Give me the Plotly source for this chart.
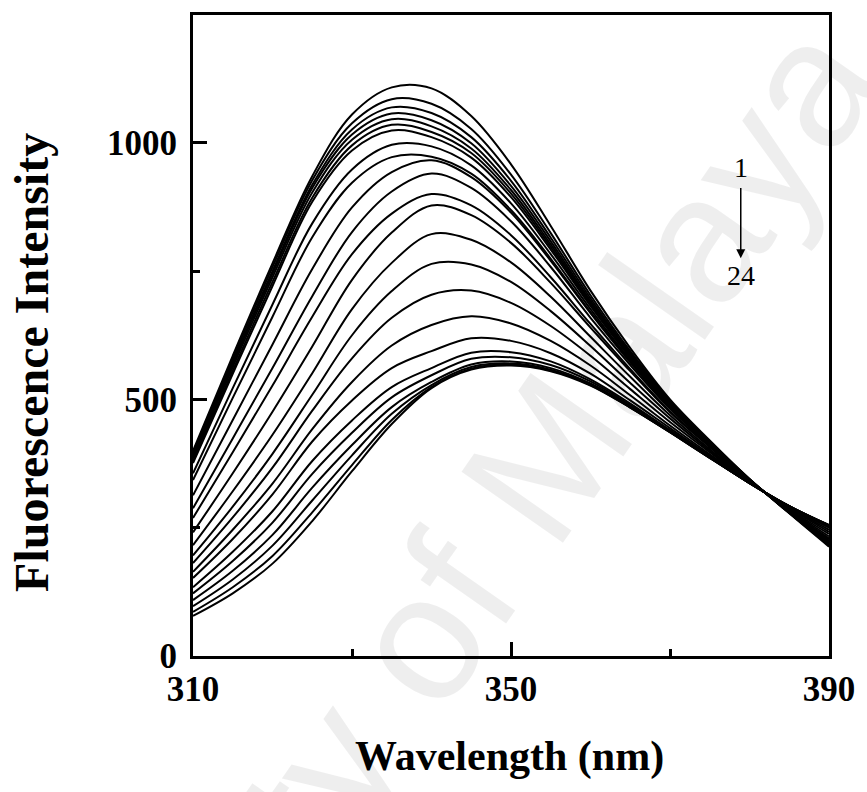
import plotly.graph_objects as go

wavelength = [310, 315, 320, 325, 330, 335, 340, 345, 350, 355, 360, 365, 370, 375, 380, 385, 390]

c01 = [400, 585, 765, 935, 1055, 1108, 1106, 1052, 958, 838, 712, 600, 500, 420, 345, 278, 213]
c02 = [396, 579, 758, 927, 1038, 1085, 1076, 1027, 938, 824, 703, 594, 497, 418, 345, 279, 215]
c03 = [392, 573, 750, 918, 1026, 1069, 1058, 1011, 926, 815, 697, 590, 495, 417, 344, 279, 216]
c04 = [389, 569, 745, 912, 1016, 1057, 1044, 999, 916, 808, 692, 588, 493, 416, 344, 279, 217]
c05 = [385, 563, 738, 903, 1006, 1046, 1032, 989, 908, 802, 689, 585, 492, 416, 344, 280, 218]
c06 = [380, 556, 729, 893, 995, 1035, 1021, 980, 901, 797, 685, 583, 491, 415, 344, 280, 219]
c07 = [376, 550, 721, 885, 985, 1024, 1011, 971, 894, 792, 682, 581, 490, 414, 344, 280, 220]
c08 = [356, 522, 685, 843, 948, 996, 993, 956, 882, 783, 676, 577, 488, 413, 343, 281, 221]
c09 = [343, 503, 661, 816, 922, 972, 973, 940, 869, 774, 670, 574, 485, 412, 343, 281, 223]
c10 = [313, 460, 607, 754, 874, 943, 966, 933, 864, 770, 668, 572, 485, 412, 343, 281, 223]
c11 = [288, 424, 561, 701, 826, 905, 940, 912, 847, 758, 659, 567, 482, 410, 343, 282, 225]
c12 = [269, 397, 527, 661, 783, 862, 900, 878, 820, 738, 647, 559, 477, 408, 342, 283, 228]
c13 = [241, 356, 476, 603, 733, 825, 878, 859, 805, 727, 640, 555, 475, 407, 342, 283, 229]
c14 = [216, 321, 431, 551, 676, 766, 822, 811, 767, 700, 622, 544, 469, 403, 341, 285, 233]
c15 = [196, 291, 394, 509, 625, 711, 764, 763, 729, 672, 604, 532, 463, 400, 340, 286, 238]
c16 = [181, 270, 367, 478, 580, 659, 704, 712, 688, 643, 585, 520, 456, 397, 339, 288, 242]
c17 = [164, 246, 336, 442, 534, 605, 645, 662, 648, 614, 566, 508, 449, 393, 339, 289, 246]
c18 = [152, 228, 315, 418, 498, 561, 594, 619, 614, 590, 550, 498, 444, 390, 338, 290, 250]
c19 = [134, 203, 282, 380, 459, 524, 561, 591, 592, 574, 539, 492, 440, 388, 337, 291, 252]
c20 = [122, 185, 260, 355, 435, 504, 547, 579, 582, 567, 535, 489, 439, 387, 337, 292, 253]
c21 = [109, 166, 236, 328, 411, 485, 534, 568, 574, 561, 531, 486, 437, 387, 337, 292, 254]
c22 = [97, 149, 215, 303, 391, 472, 528, 563, 570, 558, 529, 485, 436, 386, 337, 292, 255]
c23 = [86, 134, 195, 280, 372, 460, 524, 560, 568, 556, 528, 484, 436, 386, 337, 292, 255]
c24 = [78, 122, 180, 263, 360, 452, 522, 558, 566, 555, 527, 484, 436, 386, 337, 292, 255]

curves = [c01, c02, c03, c04, c05, c06, c07, c08, c09, c10, c11, c12,
          c13, c14, c15, c16, c17, c18, c19, c20, c21, c22, c23, c24]

x_ticks = [310, 350, 390]
y_ticks = [0, 500, 1000]

SERIF = "Liberation Serif"

fig = go.Figure()
for i, c in enumerate(curves):
    fig.add_trace(go.Scatter(
        x=wavelength, y=c, mode="lines", name=str(i + 1),
        line=dict(color="black", width=2, shape="spline", smoothing=1.0),
        showlegend=False, hoverinfo="skip"))

fig.update_layout(
    width=867, height=792,
    margin=dict(l=193, r=32, t=14, b=136),
    paper_bgcolor="white", plot_bgcolor="white",
    font=dict(family=SERIF, color="black"),
)

fig.update_xaxes(
    range=[310, 390], tickmode="array", tickvals=x_ticks,
    ticktext=[str(v) for v in x_ticks],
    ticks="inside", ticklen=14, tickwidth=2.5, tickcolor="black",
    minor=dict(ticks="inside", ticklen=7, tickwidth=2.5, tickcolor="black",
               tickmode="array", tickvals=[330, 370]),
    showline=True, linewidth=3, linecolor="black", mirror=True,
    showgrid=False, zeroline=False,
    tickfont=dict(family=SERIF, size=35, weight="bold", color="black"),
    ticklabelstandoff=0,
)
fig.update_yaxes(
    range=[0, 1249], tickmode="array", tickvals=y_ticks,
    ticktext=[str(v) for v in y_ticks],
    ticks="inside", ticklen=14, tickwidth=2.5, tickcolor="black",
    minor=dict(ticks="inside", ticklen=7, tickwidth=2.5, tickcolor="black",
               tickmode="array", tickvals=[250, 750]),
    showline=True, linewidth=3, linecolor="black", mirror=True,
    showgrid=False, zeroline=False,
    tickfont=dict(family=SERIF, size=35, weight="bold", color="black"),
    ticklabelstandoff=6,
)

# watermark
fig.add_annotation(
    text="University of Malaya", xref="paper", yref="paper",
    x=0.28, y=-0.08, xanchor="center", yanchor="middle",
    textangle=-55, showarrow=False,
    font=dict(family="Liberation Sans", size=180, color="rgba(0,0,0,0.065)"),
)

# axis titles
fig.add_annotation(
    text="Wavelength (nm)", xref="paper", yref="paper",
    x=0.498, y=-0.157, xanchor="center", yanchor="middle", showarrow=False,
    font=dict(family=SERIF, size=42, weight="bold", color="black"),
)
fig.add_annotation(
    text="Fluorescence Intensity", xref="paper", yref="paper",
    x=-0.254, y=0.458, xanchor="center", yanchor="middle", showarrow=False,
    textangle=-90,
    font=dict(family=SERIF, size=48, weight="bold", color="black"),
)

# arrow 1 -> 24
fig.add_annotation(x=378.9, y=775, ax=378.9, ay=915, xref="x", yref="y",
                   axref="x", ayref="y", text="", showarrow=True,
                   arrowhead=2, arrowsize=1.2, arrowwidth=1.5, arrowcolor="black")
fig.add_annotation(x=378.9, y=952, text="1", showarrow=False, xref="x", yref="y",
                   font=dict(family=SERIF, size=28, color="black"))
fig.add_annotation(x=378.9, y=742, text="24", showarrow=False, xref="x", yref="y",
                   font=dict(family=SERIF, size=28, color="black"))

fig.write_html("out.html")
